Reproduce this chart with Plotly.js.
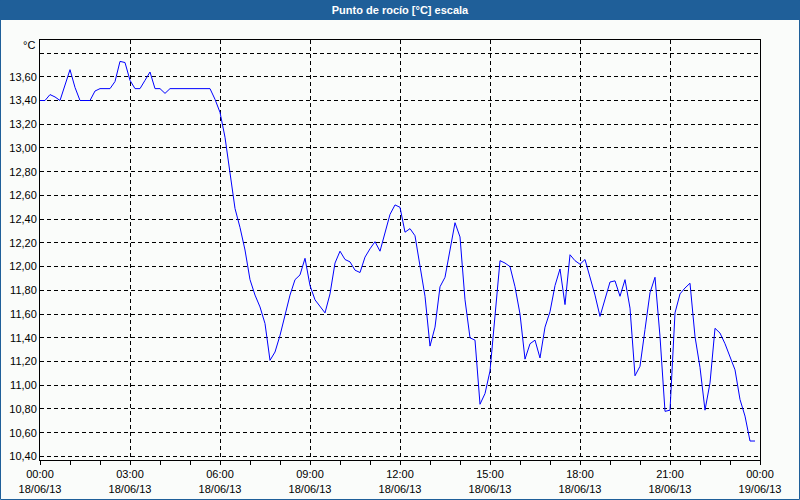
<!DOCTYPE html>
<html>
<head>
<meta charset="utf-8">
<script src="https://cdn.plot.ly/plotly-3.0.1.min.js"></script>
<style>
  html, body { margin: 0; padding: 0; background: #fafcfa; }
  #chart { width: 800px; height: 500px; }
</style>
</head>
<body>
<div id="chart"></div>
<script>
// ---- Data ----
const startDate = '2013-06-18';
const stepMinutes = 10;

const dewPoint = [
  13.40, 13.40, 13.45, 13.43, 13.40, 13.53, 13.66, 13.51, 13.40, 13.40,
  13.40, 13.48, 13.50, 13.50, 13.50, 13.56, 13.73, 13.72, 13.57, 13.50,
  13.50, 13.57, 13.64, 13.50, 13.50, 13.46, 13.50, 13.50, 13.50, 13.50,
  13.50, 13.50, 13.50, 13.50, 13.50, 13.41, 13.30, 13.09, 12.81, 12.49,
  12.33, 12.14, 11.89, 11.76, 11.66, 11.52, 11.21, 11.28, 11.42, 11.59,
  11.76, 11.89, 11.93, 12.07, 11.84, 11.72, 11.66, 11.61, 11.77, 12.03,
  12.13, 12.06, 12.04, 11.97, 11.95, 12.08, 12.15, 12.21, 12.13, 12.28,
  12.44, 12.52, 12.50, 12.29, 12.32, 12.26, 12.00, 11.75, 11.33, 11.49,
  11.83, 11.91, 12.14, 12.37, 12.25, 11.72, 11.40, 11.38, 10.84, 10.93,
  11.12, 11.58, 12.05, 12.03, 12.00, 11.83, 11.60, 11.22, 11.35, 11.38,
  11.23, 11.49, 11.62, 11.84, 11.98, 11.68, 12.10, 12.05, 12.02, 12.06,
  11.91, 11.76, 11.58, 11.73, 11.87, 11.88, 11.75, 11.89, 11.65, 11.08,
  11.16, 11.47, 11.78, 11.91, 11.41, 10.78, 10.79, 11.61, 11.77, 11.82,
  11.86, 11.41, 11.15, 10.79, 11.02, 11.48, 11.44, 11.35, 11.24, 11.13,
  10.88, 10.74, 10.53, 10.53
];

const xTickTimes = [
  '2013-06-18 00:00', '2013-06-18 03:00', '2013-06-18 06:00', '2013-06-18 09:00',
  '2013-06-18 12:00', '2013-06-18 15:00', '2013-06-18 18:00', '2013-06-18 21:00',
  '2013-06-19 00:00'
];
const xTickLabels = [
  '00:00<br>18/06/13', '03:00<br>18/06/13', '06:00<br>18/06/13', '09:00<br>18/06/13',
  '12:00<br>18/06/13', '15:00<br>18/06/13', '18:00<br>18/06/13', '21:00<br>18/06/13',
  '00:00<br>19/06/13'
];

const yTickVals = [10.4, 10.6, 10.8, 11.0, 11.2, 11.4, 11.6, 11.8, 12.0, 12.2, 12.4,
                   12.6, 12.8, 13.0, 13.2, 13.4, 13.6, 13.8];
const yTickLabels = ['10,40', '10,60', '10,80', '11,00', '11,20', '11,40', '11,60', '11,80',
                     '12,00', '12,20', '12,40', '12,60', '12,80', '13,00', '13,20', '13,40',
                     '13,60', ''];

// ---- Sample timestamps (10-minute grid) ----
function pad(n) { return (n < 10 ? '0' : '') + n; }
const times = dewPoint.map((_, i) => {
  const m = i * stepMinutes;
  return startDate + ' ' + pad(Math.floor(m / 60)) + ':' + pad(m % 60);
});

// ---- Styling ----
const W = 800, H = 500, ML = 40, MR = 40, MT = 40, MB = 40;
const PW = W - ML - MR, PH = H - MT - MB;
const px = v => (v - ML) / PW;          // pixel x -> paper x
const py = v => 1 - (v - MT) / PH;      // pixel y -> paper y
const barColor = '#1f5f99';
const tickFont = { family: 'Liberation Sans, Arial, sans-serif', size: 11, color: '#000' };

const trace = {
  x: times,
  y: dewPoint,
  type: 'scatter',
  mode: 'lines',
  line: { color: '#0000ff', width: 1 },
  hoverinfo: 'x+y'
};

const layout = {
  width: W,
  height: H,
  margin: { l: ML, r: MR, t: MT, b: MB, pad: 0 },
  paper_bgcolor: '#fafcfa',
  plot_bgcolor: '#fafcfa',
  showlegend: false,
  title: {
    text: '<b>Punto de rocío [°C] escala</b>',
    font: { family: 'Liberation Sans, Arial, sans-serif', size: 11, color: '#ffffff' },
    x: 0.5, xanchor: 'center', xref: 'container',
    y: 1 - 10 / H, yanchor: 'middle', yref: 'container'
  },
  xaxis: {
    type: 'date',
    range: [xTickTimes[0], xTickTimes[xTickTimes.length - 1]],
    tickmode: 'array',
    tickvals: xTickTimes,
    ticktext: xTickLabels,
    ticks: 'outside',
    ticklen: 4,
    tickwidth: 1,
    tickcolor: '#000',
    tickfont: tickFont,
    showgrid: true,
    gridcolor: '#000',
    gridwidth: 1,
    griddash: '4px,3px',
    showline: true,
    linecolor: '#000',
    linewidth: 1,
    mirror: true,
    zeroline: false,
    minor: {
      tickmode: 'linear',
      tick0: xTickTimes[0],
      dtick: 3600000,
      ticks: 'outside',
      ticklen: 4,
      tickwidth: 1,
      tickcolor: '#000',
      showgrid: false
    },
    fixedrange: true
  },
  yaxis: {
    range: [10.37, 13.91],
    tickmode: 'array',
    tickvals: yTickVals,
    ticktext: yTickLabels,
    ticks: '',
    tickfont: tickFont,
    showgrid: true,
    gridcolor: '#000',
    gridwidth: 1,
    griddash: '4px,3px',
    showline: true,
    linecolor: '#000',
    linewidth: 1,
    mirror: true,
    zeroline: false,
    fixedrange: true
  },
  shapes: [
    {
      type: 'rect', xref: 'paper', yref: 'paper', layer: 'below',
      x0: px(0), x1: px(W), y0: py(20), y1: py(0),
      fillcolor: barColor, line: { width: 0 }
    },
    {
      type: 'rect', xref: 'paper', yref: 'paper', layer: 'above',
      x0: px(0.5), x1: px(W - 0.5), y0: py(H - 0.5), y1: py(0.5),
      fillcolor: 'rgba(0,0,0,0)', line: { color: barColor, width: 1 }
    }
  ],
  annotations: [
    {
      text: '°C', xref: 'paper', yref: 'paper',
      x: px(37), y: py(45), xanchor: 'right', yanchor: 'middle',
      showarrow: false, font: tickFont
    }
  ]
};

Plotly.newPlot('chart', [trace], layout, { displayModeBar: false, staticPlot: true });
</script>
</body>
</html>
